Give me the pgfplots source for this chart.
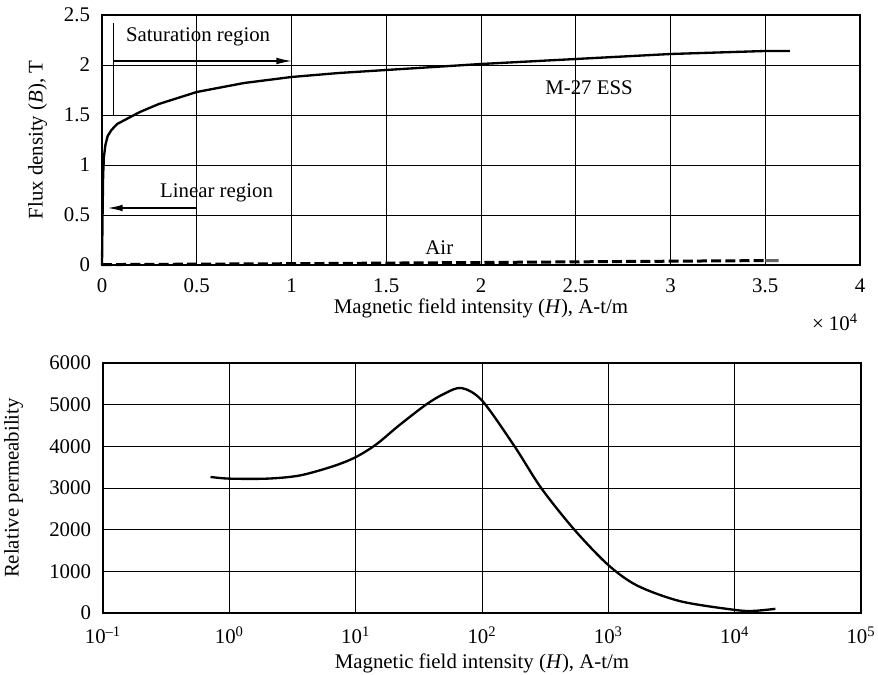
\documentclass[border=0pt,12pt]{standalone}
\usepackage{fontspec}
\setmainfont{Liberation Serif}
\usepackage{pgfplots}
\pgfplotsset{compat=1.18}
\usetikzlibrary{arrows.meta}

\pgfplotsset{
  magstyle/.style={
    scale only axis,
    width=454.8pt, height=150pt,
    grid=major,
    major grid style={black, line width=0.5pt},
    axis line style={black, line width=0.8pt},
    major tick length=0pt, minor tick length=0pt,
    tick label style={font=\fontsize{12.5}{14}\selectfont},
    xticklabel style={yshift=-4pt},
    yticklabel style={xshift=-3pt},
    label style={font=\fontsize{12.5}{14}\selectfont},
    /pgf/number format/assume math mode=true,
    /pgf/number format/set thousands separator={},
    scaled ticks=false,
  },
}

\begin{document}
\begin{tikzpicture}
\useasboundingbox (-61.8pt,-36.6pt) rectangle (465pt,367.8pt);

% B-H curve
\begin{axis}[
  magstyle,
  at={(-0.6pt,208.8pt)}, anchor=south west,
  xmin=0, xmax=4, ymin=0, ymax=2.5,
  xtick={0,0.5,...,4}, ytick={0,0.5,...,2.5},
  xlabel={Magnetic field intensity (\textit{H}), A-t/m},
  ylabel={Flux density (\textit{B}), T},
  xlabel style={at={(axis description cs:0.5,-0.175)}, anchor=center},
  ylabel style={at={(axis description cs:-0.085,0.5)}, anchor=center},
  clip=false,
]
\addplot[black, line width=1.4pt] coordinates {
  (0,0) (0.003,0.5) (0.006,0.9) (0.01,1.08) (0.018,1.2) (0.03,1.29)
  (0.05,1.35) (0.08,1.41) (0.12,1.45) (0.2,1.53) (0.3,1.61) (0.5,1.73)
  (0.75,1.82) (1.0,1.88) (1.25,1.92) (1.5,1.95) (2.0,2.01) (2.5,2.06)
  (3.0,2.11) (3.5,2.14) (3.63,2.14)
};
\addplot[black, line width=1.8pt, dash pattern=on 6pt off 2.5pt] coordinates {
  (0,0.004) (1,0.013) (2,0.025) (3,0.038) (3.5,0.044)
};
\addplot[black!60, line width=1.8pt] coordinates {(3.5,0.044) (3.57,0.045)};
\draw[black, line width=0.7pt] (axis cs:0.06,1.5) -- (axis cs:0.06,2.42);
\draw[black, line width=0.7pt, -{Latex[length=9pt,width=4pt]}] (axis cs:0.06,2.04) -- (axis cs:1.0,2.04);
\node[anchor=west, font=\fontsize{12.5}{14}\selectfont] at (axis cs:0.09,2.28) {Saturation region};
\draw[black, line width=0.9pt, -{Latex[length=9pt,width=4pt]}] (axis cs:0.5,0.57) -- (axis cs:0.03,0.57);
\node[anchor=west, font=\fontsize{12.5}{14}\selectfont] at (axis cs:0.27,0.72) {Linear region};
\node[font=\fontsize{12.5}{14}\selectfont] at (axis cs:2.57,1.77) {M-27 ESS};
\node[font=\fontsize{12.5}{14}\selectfont] at (axis cs:1.78,0.17) {Air};
\node[font=\fontsize{12.5}{14}\selectfont] at (rel axis cs:0.967,-0.23) {× 10\textsuperscript{4}};
\end{axis}

% relative permeability
\begin{axis}[
  magstyle,
  at={(0pt,0pt)}, anchor=south west,
  xmode=log,
  xmin=0.1, xmax=100000, ymin=0, ymax=6000,
  xtick={0.1,1,10,100,1000,10000,100000},
  xticklabels={10\textsuperscript{–1},10\textsuperscript{0},10\textsuperscript{1},10\textsuperscript{2},10\textsuperscript{3},10\textsuperscript{4},10\textsuperscript{5}},
  minor xtick={},
  ytick={0,1000,...,6000},
  xlabel={Magnetic field intensity (\textit{H}), A-t/m},
  ylabel={Relative permeability},
  xlabel style={at={(axis description cs:0.5,-0.2)}, anchor=center},
  ylabel style={at={(axis description cs:-0.118,0.5)}, anchor=center},
]
\addplot[black, line width=1.4pt, smooth, tension=0.5] coordinates {
  (0.71,3265) (1,3225) (2,3225) (3.6,3300) (6.6,3520) (10,3740)
  (14.6,4050) (22,4500) (36,5000) (50,5260) (68.7,5400) (100,5100)
  (181,4000) (294,3000) (538,2000) (1000,1150) (1700,655) (3740,280)
  (10000,75) (14000,50) (21000,100)
};
\end{axis}
\end{tikzpicture}
\end{document}
